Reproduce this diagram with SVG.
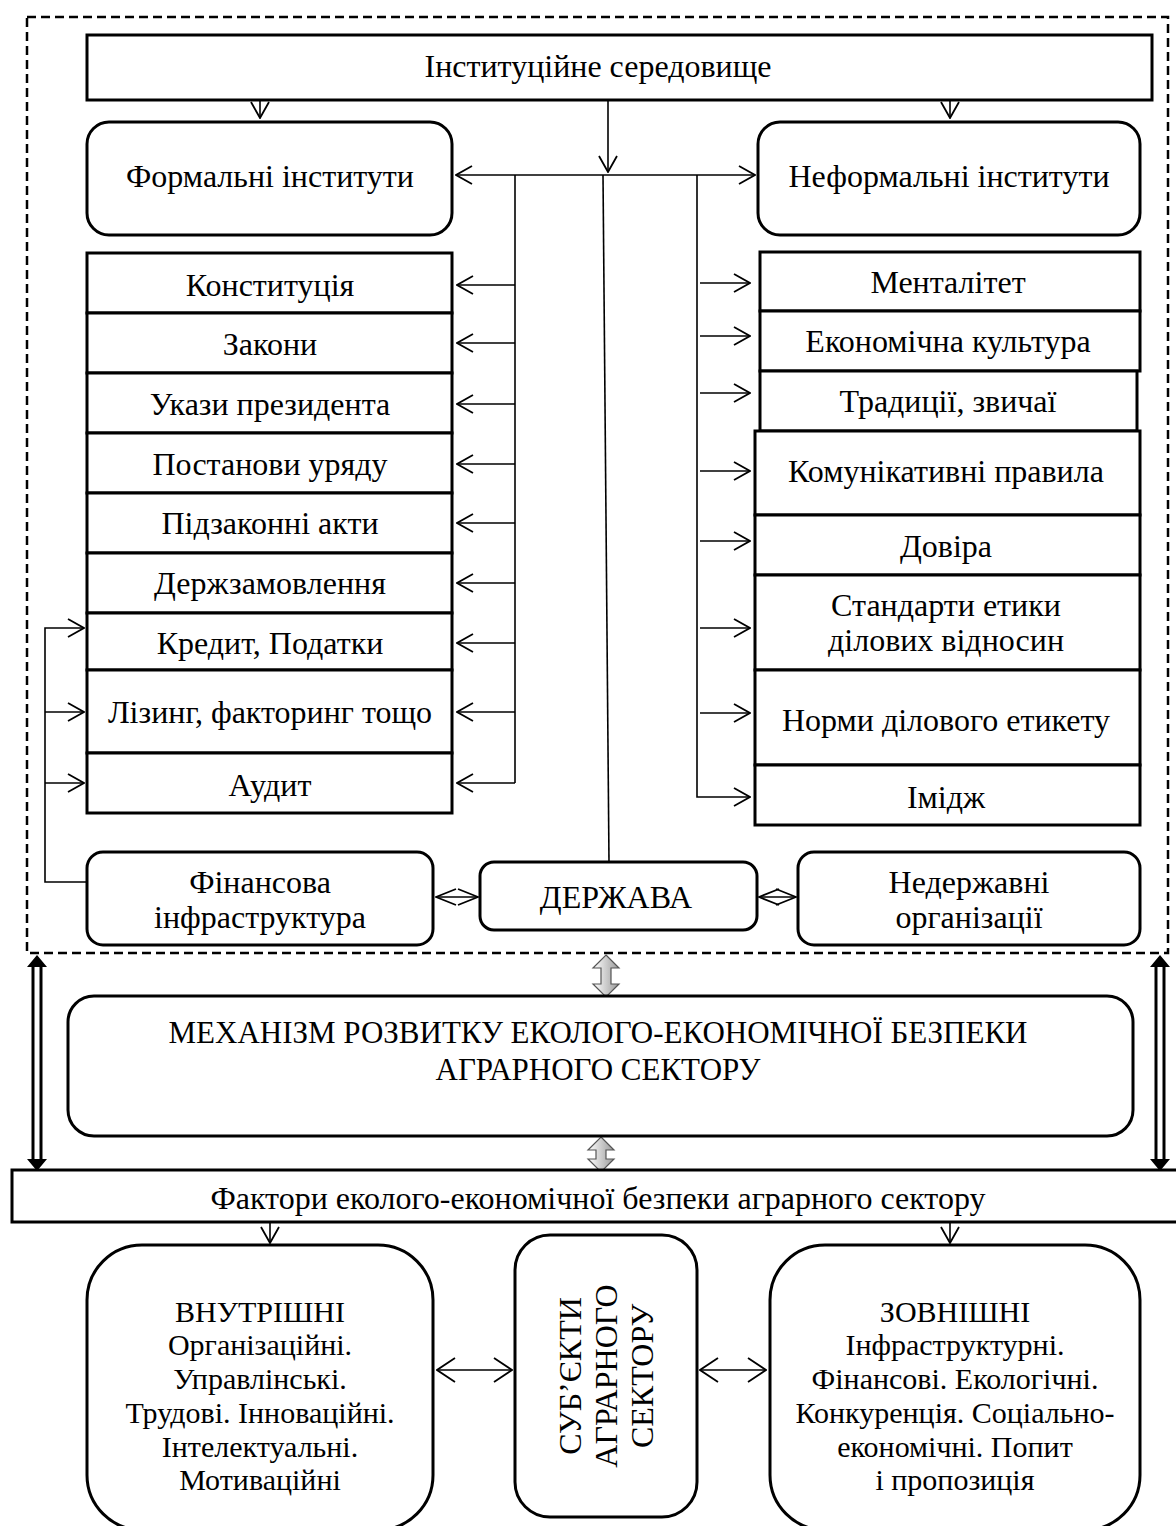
<svg xmlns="http://www.w3.org/2000/svg" width="1176" height="1526" viewBox="0 0 1176 1526">
  <style>
    .box { fill: #fff; stroke: #000; stroke-width: 3; }
    .t { font-family: "Liberation Serif", "Times New Roman", serif; font-size: 32px; fill: #000; text-anchor: middle; dominant-baseline: central; }
    .big { font-size: 31px; }
    .sm { font-size: 30px; }
    .ln { fill: none; stroke: #000; stroke-width: 1.6; }
    .dash { fill: none; stroke: #000; stroke-width: 2.5; stroke-dasharray: 9 5; }
  </style>
  <defs>
    <marker id="ah" markerUnits="userSpaceOnUse" viewBox="0 0 18 20" markerWidth="18" markerHeight="20" refX="17" refY="10" orient="auto-start-reverse">
      <path d="M1,1 L17,10 L1,19" fill="none" stroke="#000" stroke-width="1.8"/>
    </marker>
    <marker id="dh" markerUnits="userSpaceOnUse" viewBox="0 0 22 18" markerWidth="22" markerHeight="18" refX="21" refY="9" orient="auto-start-reverse">
      <path d="M1,1 L21,9 L1,17" fill="none" stroke="#000" stroke-width="1.8"/>
    </marker>
    <marker id="wh" markerUnits="userSpaceOnUse" viewBox="0 0 20 26" markerWidth="20" markerHeight="26" refX="19" refY="13" orient="auto-start-reverse">
      <path d="M1,1 L19,13 L1,25" fill="none" stroke="#000" stroke-width="1.8"/>
    </marker>
    <linearGradient id="gr" x1="0" y1="0" x2="1" y2="0">
      <stop offset="0" stop-color="#ffffff"/>
      <stop offset="1" stop-color="#9a9a9a"/>
    </linearGradient>
  </defs>

  <!-- institutional environment frame -->
  <rect id="frame" class="dash" x="27" y="17" width="1141" height="936"/>

  <g id="connectors">
    <!-- from the top box -->
    <line class="ln" x1="260" y1="100" x2="260" y2="118" marker-end="url(#ah)"/>
    <line class="ln" x1="950" y1="100" x2="950" y2="118" marker-end="url(#ah)"/>
    <line class="ln" x1="608" y1="100" x2="608" y2="172" marker-end="url(#ah)"/>
    <!-- formal / informal link -->
    <line class="ln" x1="456" y1="175" x2="755" y2="175" marker-start="url(#ah)" marker-end="url(#ah)"/>
    <!-- trunk to the state -->
    <line class="ln" x1="603" y1="175" x2="609" y2="862"/>
    <!-- formal branch -->
    <line class="ln" x1="515" y1="175" x2="515" y2="783"/>
    <line class="ln" x1="515" y1="285" x2="457" y2="285" marker-end="url(#ah)"/>
    <line class="ln" x1="515" y1="343" x2="457" y2="343" marker-end="url(#ah)"/>
    <line class="ln" x1="515" y1="404" x2="457" y2="404" marker-end="url(#ah)"/>
    <line class="ln" x1="515" y1="464" x2="457" y2="464" marker-end="url(#ah)"/>
    <line class="ln" x1="515" y1="523" x2="457" y2="523" marker-end="url(#ah)"/>
    <line class="ln" x1="515" y1="583" x2="457" y2="583" marker-end="url(#ah)"/>
    <line class="ln" x1="515" y1="643" x2="457" y2="643" marker-end="url(#ah)"/>
    <line class="ln" x1="515" y1="712" x2="457" y2="712" marker-end="url(#ah)"/>
    <line class="ln" x1="515" y1="783" x2="457" y2="783" marker-end="url(#ah)"/>
    <!-- informal branch -->
    <polyline class="ln" points="697,175 697,797 750,797" marker-end="url(#ah)"/>
    <line class="ln" x1="700" y1="283" x2="750" y2="283" marker-end="url(#ah)"/>
    <line class="ln" x1="700" y1="336" x2="750" y2="336" marker-end="url(#ah)"/>
    <line class="ln" x1="700" y1="393" x2="750" y2="393" marker-end="url(#ah)"/>
    <line class="ln" x1="700" y1="471" x2="750" y2="471" marker-end="url(#ah)"/>
    <line class="ln" x1="700" y1="541" x2="750" y2="541" marker-end="url(#ah)"/>
    <line class="ln" x1="700" y1="628" x2="750" y2="628" marker-end="url(#ah)"/>
    <line class="ln" x1="700" y1="713" x2="750" y2="713" marker-end="url(#ah)"/>
    <!-- financial infrastructure feedback -->
    <polyline class="ln" points="87,882 45,882 45,628 84,628" marker-end="url(#ah)"/>
    <line class="ln" x1="45" y1="712" x2="84" y2="712" marker-end="url(#ah)"/>
    <line class="ln" x1="45" y1="783" x2="84" y2="783" marker-end="url(#ah)"/>
    <!-- state links -->
    <line class="ln" x1="436" y1="897" x2="478" y2="897" marker-start="url(#dh)" marker-end="url(#dh)"/>
    <line class="ln" x1="759" y1="897" x2="796" y2="897" marker-start="url(#dh)" marker-end="url(#dh)"/>
    <!-- grey block arrows around the mechanism -->
    <path d="M606,955 L619,968 L611,968 L611,984 L619,984 L606,997 L593,984 L601,984 L601,968 L593,968 Z" fill="url(#gr)" stroke="#555" stroke-width="1.2"/>
    <path d="M601,1137 L614,1150 L606,1150 L606,1159 L614,1159 L601,1172 L588,1159 L596,1159 L596,1150 L588,1150 Z" fill="url(#gr)" stroke="#555" stroke-width="1.2"/>
    <!-- side double-line arrows -->
    <g id="side-left">
      <line x1="33" y1="966" x2="33" y2="1160" stroke="#000" stroke-width="3"/>
      <line x1="41" y1="966" x2="41" y2="1160" stroke="#000" stroke-width="3"/>
      <path d="M37,955 L47,967 L27,967 Z M37,1171 L47,1159 L27,1159 Z" fill="#000"/>
    </g>
    <g id="side-right">
      <line x1="1156" y1="966" x2="1156" y2="1160" stroke="#000" stroke-width="3"/>
      <line x1="1164" y1="966" x2="1164" y2="1160" stroke="#000" stroke-width="3"/>
      <path d="M1160,955 L1170,967 L1150,967 Z M1160,1171 L1170,1159 L1150,1159 Z" fill="#000"/>
    </g>
    <!-- factor arrows -->
    <line class="ln" x1="270" y1="1222" x2="270" y2="1243" marker-end="url(#ah)"/>
    <line class="ln" x1="950" y1="1222" x2="950" y2="1243" marker-end="url(#ah)"/>
    <line class="ln" x1="437" y1="1370" x2="512" y2="1370" marker-start="url(#wh)" marker-end="url(#wh)"/>
    <line class="ln" x1="700" y1="1370" x2="766" y2="1370" marker-start="url(#wh)" marker-end="url(#wh)"/>
  </g>

  <g id="env">
    <rect class="box" x="87" y="35" width="1065" height="65"/>
    <text class="t" x="598" y="66">Інституційне середовище</text>
  </g>
  <g id="formal">
    <rect class="box" x="87" y="122" width="365" height="113" rx="22"/>
    <text class="t" x="270" y="176">Формальні інститути</text>
  </g>
  <g id="informal">
    <rect class="box" x="758" y="122" width="382" height="113" rx="22"/>
    <text class="t" x="949" y="176">Неформальні інститути</text>
  </g>

  <g id="formal-list">
    <rect class="box" x="87" y="253" width="365" height="60"/>
    <text class="t" x="270" y="285">Конституція</text>
    <rect class="box" x="87" y="313" width="365" height="60"/>
    <text class="t" x="270" y="344">Закони</text>
    <rect class="box" x="87" y="373" width="365" height="60"/>
    <text class="t" x="270" y="404">Укази президента</text>
    <rect class="box" x="87" y="433" width="365" height="60"/>
    <text class="t" x="270" y="464">Постанови уряду</text>
    <rect class="box" x="87" y="493" width="365" height="60"/>
    <text class="t" x="270" y="523">Підзаконні акти</text>
    <rect class="box" x="87" y="553" width="365" height="60"/>
    <text class="t" x="270" y="583">Держзамовлення</text>
    <rect class="box" x="87" y="613" width="365" height="57"/>
    <text class="t" x="270" y="643">Кредит, Податки</text>
    <rect class="box" x="87" y="670" width="365" height="83"/>
    <text class="t" x="270" y="712">Лізинг, факторинг тощо</text>
    <rect class="box" x="87" y="753" width="365" height="60"/>
    <text class="t" x="270" y="785">Аудит</text>
  </g>

  <g id="informal-list">
    <rect class="box" x="760" y="252" width="380" height="59"/>
    <text class="t" x="948" y="282">Менталітет</text>
    <rect class="box" x="760" y="311" width="380" height="60"/>
    <text class="t" x="948" y="341">Економічна культура</text>
    <rect class="box" x="760" y="371" width="377" height="60"/>
    <text class="t" x="948" y="401">Традиції, звичаї</text>
    <rect class="box" x="755" y="431" width="385" height="84"/>
    <text class="t" x="946" y="471">Комунікативні правила</text>
    <rect class="box" x="755" y="515" width="385" height="60"/>
    <text class="t" x="946" y="546">Довіра</text>
    <rect class="box" x="755" y="575" width="385" height="95"/>
    <text class="t" x="946" y="605">Стандарти етики</text>
    <text class="t" x="946" y="640">ділових відносин</text>
    <rect class="box" x="755" y="670" width="385" height="95"/>
    <text class="t" x="946" y="720">Норми ділового етикету</text>
    <rect class="box" x="755" y="765" width="385" height="60"/>
    <text class="t" x="946" y="797">Імідж</text>
  </g>

  <g id="fin-infra">
    <rect class="box" x="87" y="852" width="346" height="93" rx="16"/>
    <text class="t" x="260" y="882">Фінансова</text>
    <text class="t" x="260" y="917">інфраструктура</text>
  </g>
  <g id="state">
    <rect class="box" x="480" y="862" width="277" height="68" rx="14"/>
    <text class="t" x="616" y="897">ДЕРЖАВА</text>
  </g>
  <g id="ngo">
    <rect class="box" x="798" y="852" width="342" height="93" rx="16"/>
    <text class="t" x="969" y="882">Недержавні</text>
    <text class="t" x="969" y="917">організації</text>
  </g>

  <g id="mechanism">
    <rect class="box" x="68" y="996" width="1065" height="140" rx="26"/>
    <text class="t big" x="598" y="1032">МЕХАНІЗМ РОЗВИТКУ ЕКОЛОГО-ЕКОНОМІЧНОЇ БЕЗПЕКИ</text>
    <text class="t big" x="598" y="1069">АГРАРНОГО СЕКТОРУ</text>
  </g>

  <g id="factors">
    <rect class="box" x="12" y="1170" width="1180" height="52"/>
    <text class="t" x="598" y="1198">Фактори еколого-економічної безпеки аграрного сектору</text>
  </g>

  <g id="internal">
    <rect class="box" x="87" y="1245" width="346" height="285" rx="55"/>
    <text class="t sm" x="260" y="1311">ВНУТРІШНІ</text>
    <text class="t sm" x="260" y="1344">Організаційні.</text>
    <text class="t sm" x="260" y="1378">Управлінські.</text>
    <text class="t sm" x="260" y="1412">Трудові. Інноваційні.</text>
    <text class="t sm" x="260" y="1446">Інтелектуальні.</text>
    <text class="t sm" x="260" y="1479">Мотиваційні</text>
  </g>

  <g id="subjects">
    <rect class="box" x="515" y="1235" width="182" height="282" rx="35"/>
    <g transform="translate(606,1376) rotate(-90)">
      <text class="t" x="0" y="-36">СУБ’ЄКТИ</text>
      <text class="t" x="0" y="0">АГРАРНОГО</text>
      <text class="t" x="0" y="36">СЕКТОРУ</text>
    </g>
  </g>

  <g id="external">
    <rect class="box" x="770" y="1245" width="370" height="285" rx="55"/>
    <text class="t sm" x="955" y="1311">ЗОВНІШНІ</text>
    <text class="t sm" x="955" y="1344">Інфраструктурні.</text>
    <text class="t sm" x="955" y="1378">Фінансові. Екологічні.</text>
    <text class="t sm" x="955" y="1412">Конкуренція. Соціально-</text>
    <text class="t sm" x="955" y="1446">економічні. Попит</text>
    <text class="t sm" x="955" y="1479">і пропозиція</text>
  </g>
</svg>
